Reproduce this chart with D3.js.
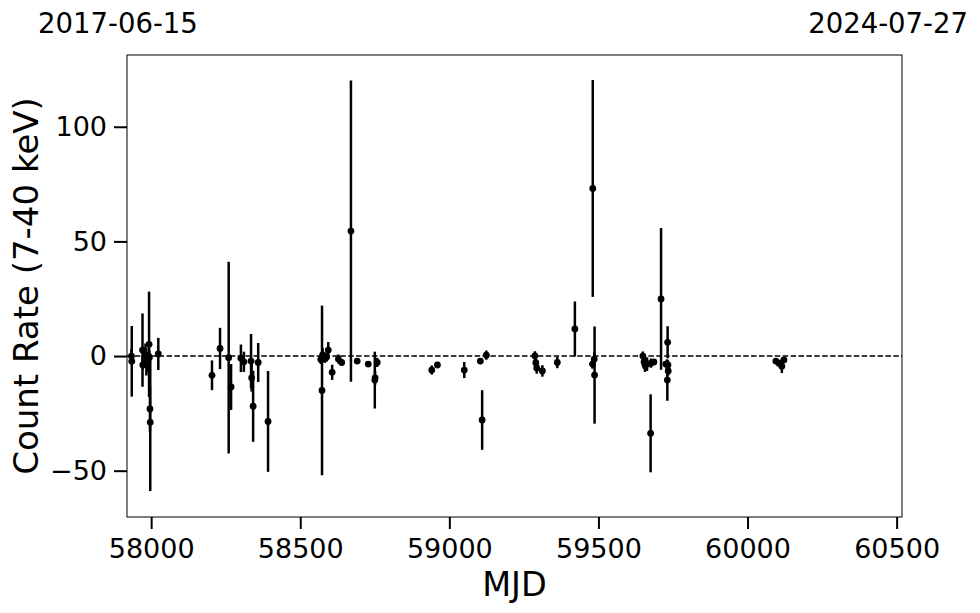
<!DOCTYPE html>
<html><head><meta charset="utf-8">
<script src="https://cdn.jsdelivr.net/npm/d3@7"></script>
<style>
body{margin:0;background:#fff;}
svg text{font-family:"DejaVu Sans",sans-serif;fill:#000;}
</style></head>
<body><svg id="chart" width="980" height="613"></svg>
<script>
// ---- data ----
const mjd = [57934,57935,57971,57972,57978,57981,57984,57987,57993,57994,57996,57997,58024,
  58204,58231,58260,58268,58301,58311,58335,58337,58342,58359,58392,
  58569,58573,58575,58582,58588,58594,58607,58628,58639,58670,58691,58728,58750,58751,58758,
  58941,58960,59050,59104,59110,59124,59287,59290,59293,59312,59362,59421,59480,59481,59486,59487,
  59649,59653,59656,59663,59675,59676,59686,59710,59726,59729,59731,59732,59733,59734,
  60095,60105,60115,60122];
const rate = [0.0,-2.3,2.6,-3.9,-1.0,0.5,-2.5,-4.0,5.1,-0.6,-23.1,-28.9,0.9,
  -8.4,3.3,-0.7,-13.5,-1.0,-2.5,-2.2,-9.5,-21.9,-2.8,-28.5,
  -1.5,-15.0,0.5,-1.0,-0.5,2.6,-7.1,-1.3,-2.8,54.5,-2.2,-3.5,-10.5,-9.5,-2.8,
  -6.1,-3.9,-6.1,-2.2,-27.9,0.4,0.1,-2.9,-5.2,-6.5,-2.8,11.8,-3.5,73.1,-1.3,-8.3,
  0.0,-2.6,-3.9,-3.5,-33.7,-3.1,-2.6,24.9,-3.5,-3.6,-10.5,6.0,-3.9,-6.5,
  -2.2,-3.1,-4.4,-1.7];
const err = [3,15.4,16,2,4,5,6,3,23,3,10,30,7,
  6.5,9,41.8,10,6,4.4,11.8,6,15.5,8.5,22,
  2,37,3,2,2,3.5,3.3,2,1.5,65.7,1,1,12.4,3,2,
  2,1,3.5,1,13,2,2,2,2.5,2.5,2.5,12,2,47.3,3,21.2,
  2,3,3,3,17,2,1,30.9,1,2,9,7,2,2,
  1,1,3,1];
const xTicks = [58000,58500,59000,59500,60000,60500];
const yTicks = [-50,0,50,100];
const dateLabels = ["2017-06-15","2024-07-27"];
const xLabel = "MJD";
const yLabel = "Count Rate (7-40 keV)";

// ---- layout ----
const svg = d3.select("#chart");
const L=127,R=902,T=55,B=517;
const x = d3.scaleLinear().domain([57919,60518]).range([L,R]);
const y = d3.scaleLinear().domain([-70.2,131.3]).range([B,T]);

const pts = mjd.map((m,i)=>({m, r:rate[i], e:err[i]}));

// zero line
svg.append("line").attr("x1",L).attr("x2",R).attr("y1",y(0)).attr("y2",y(0))
  .attr("stroke","#000").attr("stroke-width",1.5).attr("stroke-dasharray","5.5,2.4");

// error bars
svg.append("g").selectAll("line").data(pts).join("line")
  .attr("x1",d=>x(d.m)).attr("x2",d=>x(d.m))
  .attr("y1",d=>y(d.r+d.e)).attr("y2",d=>y(d.r-d.e))
  .attr("stroke","#000").attr("stroke-width",2.5);
svg.append("g").selectAll("circle").data(pts).join("circle")
  .attr("cx",d=>x(d.m)).attr("cy",d=>y(d.r)).attr("r",3.4).attr("fill","#000");

// frame
svg.append("rect").attr("x",L).attr("y",T).attr("width",R-L).attr("height",B-T)
  .attr("fill","none").attr("stroke","#000").attr("stroke-width",1);

// axes
const fmt = d=> d<0 ? "\u2212"+Math.abs(d) : String(d);
const xa = svg.append("g").attr("transform",`translate(0,${B})`)
  .call(d3.axisBottom(x).tickValues(xTicks).tickSize(12).tickPadding(6).tickFormat(d=>String(d)));
const ya = svg.append("g").attr("transform",`translate(${L},0)`)
  .call(d3.axisLeft(y).tickValues(yTicks).tickSize(13).tickPadding(7).tickFormat(fmt));
[xa,ya].forEach(a=>{
  a.select(".domain").remove();
  a.selectAll(".tick line").attr("stroke","#000").attr("stroke-width",2);
  a.selectAll(".tick text").attr("font-size",27).attr("fill","#000");
});
xa.selectAll(".tick text").attr("y",41).attr("dy",0);

svg.append("text").attr("x",(L+R)/2).attr("y",596).attr("text-anchor","middle")
  .attr("font-size",33.5).text(xLabel);
svg.append("text").attr("transform",`translate(38,${(T+B)/2}) rotate(-90)`)
  .attr("text-anchor","middle").attr("font-size",34).text(yLabel);

svg.append("text").attr("x",38).attr("y",33).attr("font-size",27.5).text(dateLabels[0]);
svg.append("text").attr("x",968).attr("y",33).attr("text-anchor","end").attr("font-size",27.5).text(dateLabels[1]);
</script></body></html>
